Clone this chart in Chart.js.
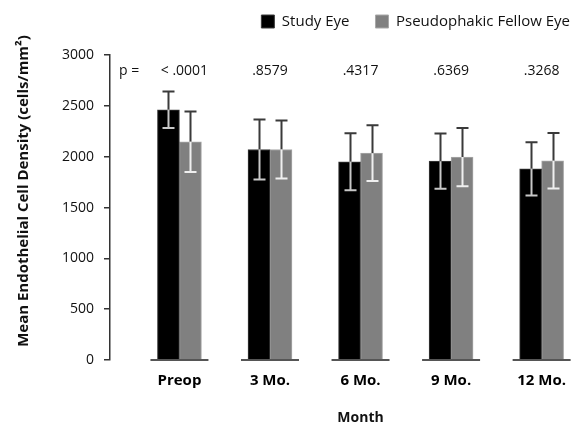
<!DOCTYPE html>
<html>
<head>
<meta charset="utf-8">
<script src="https://cdn.jsdelivr.net/npm/chart.js@4/dist/chart.umd.min.js"></script>
<style>
  html, body { margin: 0; padding: 0; background: #ffffff; }
  #wrap { width: 578px; height: 428px; }
</style>
</head>
<body>
<div id="wrap"><canvas id="chart"></canvas></div>
<script>

// DATA //
const months = ['Preop', '3 Mo.', '6 Mo.', '9 Mo.', '12 Mo.'];
const studyMean = [2463, 2072, 1951, 1957, 1882];
const studySD = [180, 296, 280, 272, 262];
const fellowMean = [2148, 2072, 2036, 1997, 1961];
const fellowSD = [298, 285, 275, 286, 273];
const pValues = ['< .0001', '.8579', '.4317', '.6369', '.3268'];
const yTicks = [0, 500, 1000, 1500, 2000, 2500, 3000];

const FONT = '"Open Sans", "DejaVu Sans", sans-serif';

/**
 * error bars, axis segments, p values and axis titles
 */
const decorations = {
  id: 'decorations',
  afterDatasetsDraw(chart) {
    const {ctx, scales: {y}} = chart;
    const sds = [studySD, fellowSD];
    const means = [studyMean, fellowMean];

    // ERROR BARS //
    ctx.save();
    ctx.lineWidth = 2;
    chart.data.datasets.forEach((ds, d) => {
      chart.getDatasetMeta(d).data.forEach((bar, i) => {
        const top = y.getPixelForValue(means[d][i] + sds[d][i]);
        const mid = y.getPixelForValue(means[d][i]);
        const low = y.getPixelForValue(means[d][i] - sds[d][i]);
        const bx = Math.round(bar.x) + 0.5;
        // upper half, above the bar //
        ctx.strokeStyle = '#3a3a3a';
        ctx.beginPath();
        ctx.moveTo(bx, mid); ctx.lineTo(bx, top);
        ctx.moveTo(bx - 6, top); ctx.lineTo(bx + 6, top);
        ctx.stroke();
        // lower half, inside the bar //
        ctx.strokeStyle = d === 0 ? '#c8c8c8' : '#efefef';
        ctx.beginPath();
        ctx.moveTo(bx, mid); ctx.lineTo(bx, low);
        ctx.moveTo(bx - 6, low); ctx.lineTo(bx + 6, low);
        ctx.stroke();
      });
    });
    ctx.restore();
  },
  afterDraw(chart) {
    const {ctx, scales: {x, y}} = chart;
    ctx.save();

    // X AXIS SEGMENTS //
    const base = y.getPixelForValue(0);
    ctx.strokeStyle = '#555555';
    ctx.lineWidth = 2;
    months.forEach((m, i) => {
      const cx = x.getPixelForValue(i);
      ctx.beginPath();
      ctx.moveTo(cx - 29, base);
      ctx.lineTo(cx + 29, base);
      ctx.stroke();
    });

    // P VALUES //
    ctx.fillStyle = '#111111';
    ctx.font = '14px ' + FONT;
    ctx.textBaseline = 'middle';
    ctx.textAlign = 'left';
    ctx.fillText('p =', 119, 71);
    ctx.textAlign = 'center';
    pValues.forEach((p, i) => {
      const cx = x.getPixelForValue(i) + (i === 0 ? 5 : 0);
      ctx.fillText(p, cx, 71);
    });

    // AXIS TITLES //
    ctx.font = 'bold 14px ' + FONT;
    ctx.fillText('Month', x.getPixelForValue(2), 418);
    ctx.font = 'bold 15px ' + FONT;
    ctx.translate(24, 191);
    ctx.rotate(-Math.PI / 2);
    ctx.fillText('Mean Endothelial Cell Density (cells/mm\u00b2)', 0, 0);

    ctx.restore();
  }
};

const chart = new Chart(document.getElementById('chart'), {
  type: 'bar',
  data: {
    datasets: [{
      label: 'Study Eye',
      data: studyMean.map((v, i) => ({x: i, y: v})),
      backgroundColor: '#000000',
      borderColor: '#3c3c3c',
      borderWidth: 1
    }, {
      label: 'Pseudophakic Fellow Eye',
      data: fellowMean.map((v, i) => ({x: i, y: v})),
      backgroundColor: '#808080',
      borderColor: '#a8a8a8',
      borderWidth: 1
    }]
  },
  options: {
    responsive: true,
    maintainAspectRatio: false,
    animation: false,
    barThickness: 22,
    layout: {padding: {top: -12, right: -18, bottom: 0, left: 0}},
    plugins: {
      tooltip: {enabled: false},
      legend: {
        position: 'top',
        align: 'end',
        labels: {
          boxWidth: 13,
          boxHeight: 13,
          padding: 26,
          color: '#111111',
          font: {family: FONT, size: 15}
        }
      },
      // empty spacer between legend and plot //
      title: {
        display: true,
        text: '',
        weight: 500,
        font: {size: 1},
        padding: {top: 0, bottom: 15}
      }
    },
    scales: {
      x: {
        type: 'linear',
        min: -0.767,
        max: 4.32,
        offset: false,
        afterBuildTicks(scale) {
          scale.ticks = months.map((m, i) => ({value: i}));
        },
        afterFit(scale) { scale.height = 68; },
        grid: {display: false, drawTicks: false},
        border: {display: false},
        ticks: {
          autoSkip: false,
          maxRotation: 0,
          padding: 12,
          color: '#000000',
          font: {family: FONT, size: 15, weight: 'bold'},
          callback: (v) => months[v] ?? ''
        }
      },
      y: {
        min: 0,
        max: 3000,
        afterBuildTicks(scale) {
          scale.ticks = yTicks.map(v => ({value: v}));
        },
        afterFit(scale) { scale.width = 110; },
        grid: {drawOnChartArea: false, drawTicks: true, tickLength: 6, color: '#333333', lineWidth: 1.5},
        border: {display: true, color: '#333333', width: 1.5},
        ticks: {
          padding: 10,
          color: '#111111',
          font: {family: FONT, size: 14},
          callback: (v) => String(v)
        }
      }
    }
  },
  plugins: [decorations]
});

</script>
</body>
</html>
